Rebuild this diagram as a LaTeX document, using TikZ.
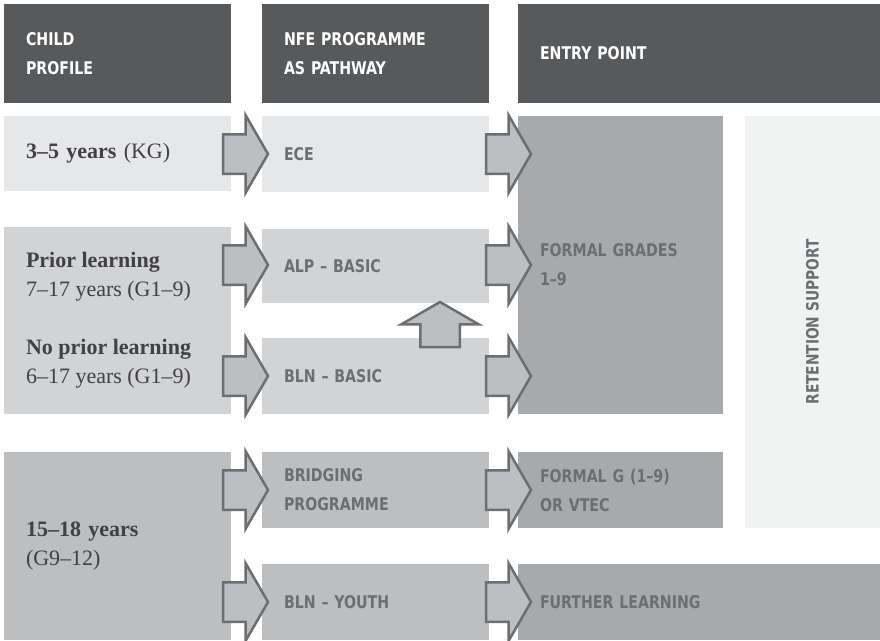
\documentclass[tikz,border=0pt]{standalone}
\usepackage{fontspec}
\setmainfont{Liberation Serif}
\newfontfamily\hdfont[FakeStretch=0.9]{DejaVu Sans Condensed}
\usepackage{tikz}
\usetikzlibrary{positioning, shapes.arrows}

\definecolor{headgray}{HTML}{58595B}
\definecolor{rowone}{HTML}{E6E7E8}
\definecolor{rowtwo}{HTML}{D1D3D4}
\definecolor{rowthree}{HTML}{BCBEC0}
\definecolor{formalgray}{HTML}{A7A9AC}
\definecolor{retaingray}{HTML}{F1F2F2}
\definecolor{labelgray}{HTML}{6D6E71}
\definecolor{textgray}{HTML}{414042}

\begin{document}
\begin{tikzpicture}[x=1pt,y=-1pt,
    every node/.style={inner sep=0pt,outer sep=0pt},
    box/.style={anchor=north west,align=left,inner xsep=22pt,inner ysep=0pt},
    head/.style={box,fill=headgray,text=white,minimum height=99pt,
        font=\hdfont\bfseries\fontsize{17.5}{29}\selectfont},
    pathway/.style={box,text=labelgray,
        font=\hdfont\bfseries\fontsize{17.5}{29}\selectfont},
    profile/.style={text=textgray,align=left,
        font=\fontsize{22}{29}\selectfont},
    blockarrow/.style={single arrow,single arrow tip angle=120,anchor=tail,
        inner xsep=0pt,inner ysep=18.5pt,
        single arrow head extend=19pt,minimum height=45pt,minimum width=75pt,
        fill=rowthree,draw=labelgray,line width=2.5pt}]
    \useasboundingbox (0,0) rectangle (880,640);

    % headers
    \node[head,text width=183pt] (hchild) at (4,4) {CHILD\\PROFILE};
    \node[head,text width=183pt] (hnfe) at (262,4) {NFE PROGRAMME\\AS PATHWAY};
    \node[head,text width=318pt] (hentry) at (518,4) {ENTRY POINT};

    % child profile
    \node[box,profile,fill=rowone,text width=183pt,minimum height=75pt] (kg)
        at (4,116) {\textbf{3–5 years} (KG)};
    \node[box,fill=rowtwo,minimum width=227pt,minimum height=187pt] (learn) at (4,227) {};
    \node[profile,anchor=west] (prior) at (26,277) {\textbf{Prior learning}\\7–17 years (G1–9)};
    \node[profile,anchor=west] (noprior) at (26,364) {\textbf{No prior learning}\\6–17 years (G1–9)};
    \node[box,profile,fill=rowthree,text width=183pt,minimum height=188pt] (youthage)
        at (4,452) {\textbf{15–18 years}\\(G9–12)};

    % nfe programme
    \node[pathway,fill=rowone,text width=183pt,minimum height=76pt] (ece) at (262,116) {ECE};
    \node[pathway,fill=rowtwo,text width=183pt,minimum height=74pt] (alp) at (262,229) {ALP – BASIC};
    \node[pathway,fill=rowtwo,text width=183pt,minimum height=76pt] (bln) at (262,338) {BLN – BASIC};
    \node[pathway,fill=rowthree,text width=183pt,minimum height=76pt] (bridge) at (262,452) {BRIDGING\\PROGRAMME};
    \node[pathway,fill=rowthree,text width=183pt,minimum height=76pt] (blnyouth) at (262,564) {BLN – YOUTH};

    % entry point
    \node[pathway,fill=formalgray,text width=161pt,minimum height=298pt] (formal) at (518,116) {FORMAL GRADES\\1–9};
    \node[pathway,fill=formalgray,text width=161pt,minimum height=76pt] (formalg) at (518,452) {FORMAL G (1–9)\\OR VTEC};
    \node[pathway,fill=formalgray,text width=318pt,minimum height=76pt] (further) at (518,564) {FURTHER LEARNING};
    \node[box,fill=retaingray,minimum width=135pt,minimum height=412pt] (retain) at (745,116) {};
    \node[text=labelgray,rotate=90,font=\hdfont\bfseries\fontsize{17}{29}\selectfont] (retaintext)
        at (retain.center) {RETENTION SUPPORT};

    %putting the block arrows:
    \node[blockarrow] (akg) at (223,154) {};
    \node[blockarrow] (aprior) at (223,265) {};
    \node[blockarrow] (anoprior) at (223,376) {};
    \node[blockarrow] (abridge) at (223,490) {};
    \node[blockarrow] (ayouth) at (223,602) {};

    \node[blockarrow] (aece) at (486,154) {};
    \node[blockarrow] (aalp) at (486,265) {};
    \node[blockarrow] (abln) at (486,376) {};
    \node[blockarrow] (aformalg) at (486,490) {};
    \node[blockarrow] (afurther) at (486,602) {};

    \node[blockarrow,shape border rotate=90,inner xsep=18.5pt,inner ysep=0pt] (aup) at (440,347) {};
\end{tikzpicture}
\end{document}
